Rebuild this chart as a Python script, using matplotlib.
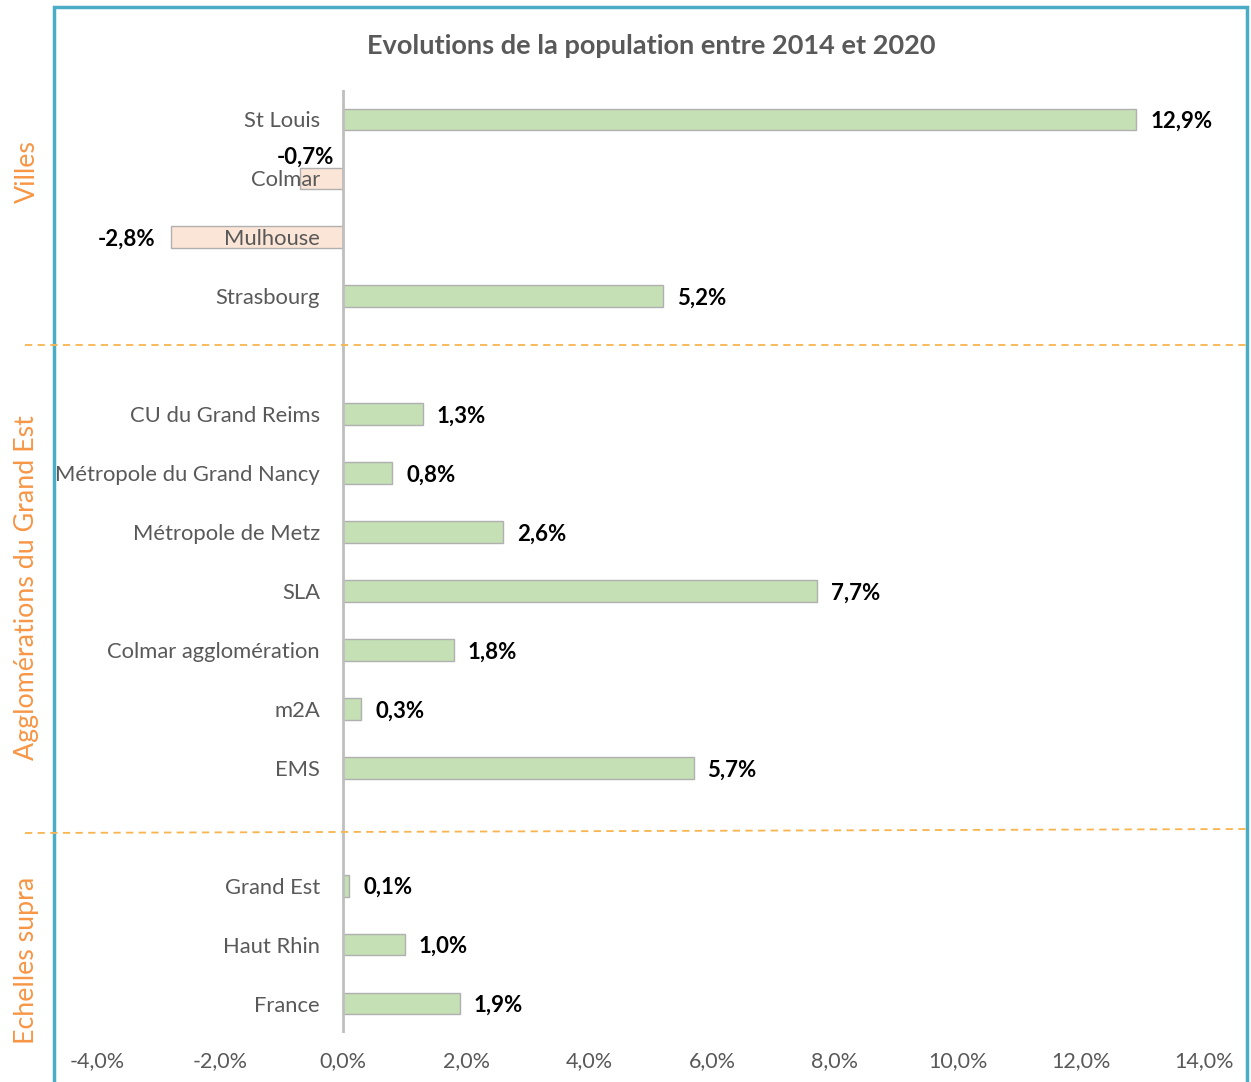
import matplotlib
matplotlib.use("Agg")
import matplotlib.pyplot as plt
from matplotlib.patches import Rectangle
from matplotlib.lines import Line2D
from matplotlib.ticker import FixedLocator, FuncFormatter

plt.rcParams['font.family'] = ['Lato', 'DejaVu Sans']

title = "Evolutions de la population entre 2014 et 2020"
group_names = ["Villes", "Agglomérations du Grand Est", "Echelles supra"]
villes = ["St Louis", "Colmar", "Mulhouse", "Strasbourg"]
villes_vals = [12.9, -0.7, -2.8, 5.2]
agglos = ["CU du Grand Reims", "Métropole du Grand Nancy", "Métropole de Metz",
          "SLA", "Colmar agglomération", "m2A", "EMS"]
agglos_vals = [1.3, 0.8, 2.6, 7.7, 1.8, 0.3, 5.7]
supra = ["Grand Est", "Haut Rhin", "France"]
supra_vals = [0.1, 1.0, 1.9]
x_ticks = [-4, -2, 0, 2, 4, 6, 8, 10, 12, 14]

groups = [(group_names[0], villes, villes_vals),
          (group_names[1], agglos, agglos_vals),
          (group_names[2], supra, supra_vals)]

W, H = 1251, 1082
fig = plt.figure(figsize=(W / 100, H / 100), dpi=100)
fig.patch.set_facecolor("white")

def fx(px):
    return px / W

def fy(py):
    return 1 - py / H

ax = fig.add_axes([fx(97), fy(1033), fx(1204) - fx(97), fy(90) - fy(1033)])

POS_COL = "#C5E0B4"
NEG_COL = "#FBE5D6"
EDGE = "#B0B0B0"
GRAY = "#595959"
ORANGE = "#F79646"

pos = 0
for gi, (gname, cats, vals) in enumerate(groups):
    for c, v in zip(cats, vals):
        ax.barh(pos, v, height=0.37, color=POS_COL if v >= 0 else NEG_COL,
                edgecolor=EDGE, linewidth=1.0, zorder=1)
        ax.annotate(c, xy=(0, pos), xytext=(-23, -2), textcoords="offset pixels",
                    ha="right", va="center", fontsize=15.8, color=GRAY, zorder=4)
        lab = f"{v:.1f}%".replace(".", ",")
        if v >= 0:
            ax.annotate(lab, xy=(v, pos), xytext=(14, -2), textcoords="offset pixels",
                        ha="left", va="center", fontsize=16, fontweight="bold",
                        color="black", zorder=5)
        elif v > -1.5:
            ax.annotate(lab, xy=(v, pos), xytext=(5, 21), textcoords="offset pixels",
                        ha="center", va="center", fontsize=16, fontweight="bold",
                        color="black", zorder=5)
        else:
            ax.annotate(lab, xy=(v, pos), xytext=(-15, -2), textcoords="offset pixels",
                        ha="right", va="center", fontsize=16, fontweight="bold",
                        color="black", zorder=5)
        pos += 1
    pos += 1
n_slots = pos - 1

ax.set_ylim(n_slots - 0.5, -0.5)
ax.set_xlim(-4, 14)
ax.axvline(0, color="#BFBFBF", linewidth=2, zorder=2)
for s in ax.spines.values():
    s.set_visible(False)
ax.set_yticks([])
ax.xaxis.set_major_locator(FixedLocator(x_ticks))
ax.xaxis.set_major_formatter(FuncFormatter(lambda v, p: f"{v:.1f}%".replace(".", ",")))
ax.tick_params(axis="x", length=0, labelsize=15.5, labelcolor=GRAY, pad=13)
ax.set_facecolor("none")

# Title
fig.text(fx(651), fy(46), title, ha="center", va="center", fontsize=19.5,
         fontweight="bold", color=GRAY)

# Group labels
group_centers_px = [172, 588, 960]
for (gname, _, _), cy in zip(groups, group_centers_px):
    fig.text(fx(27), fy(cy), gname, rotation=90, ha="center", va="center",
             fontsize=19.3, color=ORANGE)

# Separators
fig.add_artist(Line2D([fx(25), fx(1251)], [fy(345), fy(345)], color="#F9B44E",
                      linestyle=(0, (4, 3)), linewidth=1.3))
fig.add_artist(Line2D([fx(25), fx(1251)], [fy(833), fy(829)], color="#F9B44E",
                      linestyle=(0, (4, 3)), linewidth=1.3))

# Border
fig.add_artist(Rectangle((fx(54), fy(1100)), fx(1247) - fx(54), fy(7) - fy(1100),
                         fill=False, edgecolor="#4BACC6", linewidth=2.5,
                         transform=fig.transFigure, clip_on=False))

fig.savefig("out.png", dpi=100)
